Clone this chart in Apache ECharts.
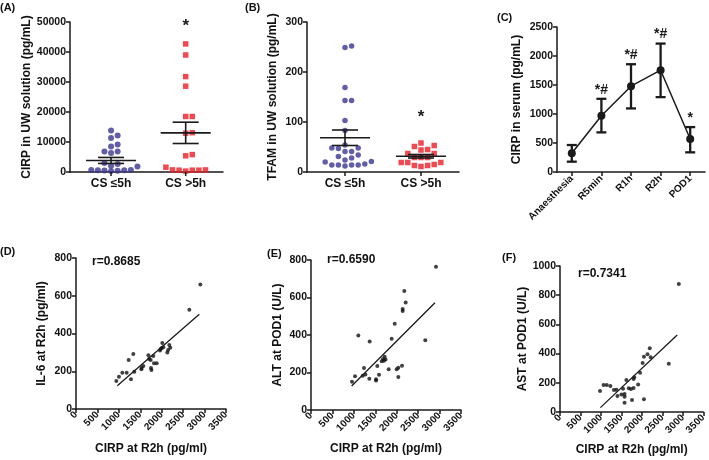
<!DOCTYPE html>
<html><head><meta charset="utf-8">
<script src="https://cdn.jsdelivr.net/npm/echarts@6/dist/echarts.min.js"></script>
<style>html,body{margin:0;padding:0;background:#fff}#c{width:709px;height:460px}</style>
</head><body><div id="c"></div>
<script>
// ---------- DATA ----------
const groupLabels = ['CS ≤5h', 'CS >5h'];
// (A) CIRP in UW solution (pg/mL)
const cirpUW_le5 = [13800, 12200, 11300, 9200, 8500, 6800, 6300, 6800, 2100, 2700, 3000, 1800, 700, 600, 500, 600, 700, 400, 300];
const cirpUW_gt5 = [42700, 39000, 31800, 28600, 18500, 18500, 13100, 12900, 5800, 5400, 1600, 700, 600, 300, 600, 700, 600];
const cirpUW_mean = [3850, 13050];
const cirpUW_sem = [1000, 3550];
const cirpUW_sig = [[2, 48500]];
// (B) TFAM in UW solution (pg/mL)
const tfam_le5 = [252, 249, 169, 143, 143, 103, 83, 54, 48, 47, 41, 41, 48, 34, 31, 28, 24, 21, 20, 14, 14, 12, 14, 14, 16];
const tfam_gt5 = [58, 51, 53, 44, 45, 37, 37, 29, 29, 29, 19, 19, 19, 13, 11, 13, 15];
const tfam_mean = [68.5, 31.5];
const tfam_sem = [15.5, 3.5];
const tfam_sig = [[2, 110]];
// (C) CIRP in serum (pg/mL)
const timepoints = ['Anaesthesia', 'R5min', 'R1h', 'R2h', 'POD1'];
const serum_mean = [322, 969, 1480, 1755, 568];
const serum_low = [178, 683, 1096, 1291, 339];
const serum_high = [465, 1262, 1858, 2214, 774];
const serum_marks = ['', '*#', '*#', '*#', '*'];
// (D) IL-6 at R2h vs CIRP at R2h
const il6_x = [941, 1003, 1081, 1182, 1283, 1229, 1337, 1361, 1532, 1571, 1525, 1703, 1742, 1804, 1750, 1760, 1820, 1883, 1690, 1960, 2014, 1976, 2037, 2000, 2130, 2150, 2177, 2200, 2644, 2901];
const il6_y = [148, 171, 192, 192, 157, 259, 291, 198, 219, 228, 210, 265, 259, 281, 217, 207, 242, 242, 285, 310, 350, 318, 327, 323, 300, 312, 339, 325, 526, 660];
const il6_fitX = [964, 2877];
const il6_fitY = [123, 502];
const il6_r = 'r=0.8685';
// (E) ALT at POD1 vs CIRP at R2h
const alt_x = [957, 1027, 1104, 1206, 1237, 1270, 1361, 1369, 1517, 1517, 1547, 1587, 1680, 1700, 1720, 1740, 1812, 1882, 1953, 1999, 2037, 2037, 2123, 2139, 2139, 2177, 2209, 2667, 2916, 1650];
const alt_y = [151, 180, 398, 183, 224, 190, 167, 366, 164, 157, 235, 188, 272, 263, 284, 270, 217, 380, 460, 217, 226, 176, 236, 539, 528, 635, 574, 372, 764, 260];
const alt_fitX = [949, 2893];
const alt_fitY = [128, 572];
const alt_r = 'r=0.6590';
// (F) AST at POD1 vs CIRP at R2h
const ast_x = [977, 1064, 1142, 1230, 1317, 1379, 1403, 1500, 1540, 1577, 1577, 1577, 1620, 1679, 1734, 1758, 1797, 1797, 1813, 1908, 1955, 2018, 2050, 2050, 2136, 2192, 2215, 2656, 2901];
const ast_y = [144, 185, 185, 178, 151, 153, 110, 120, 160, 123, 105, 64, 220, 162, 157, 82, 164, 226, 238, 189, 269, 336, 379, 87, 395, 436, 375, 331, 877];
const ast_fitX = [986, 2861];
const ast_fitY = [30, 527];
const ast_r = 'r=0.7341';

// ---------- HELPERS ----------
const F = '"Liberation Sans", Arial, sans-serif';
const INK = '#1a1a1a';
const BLUE = '#3b3591';
const RED = '#ee1c25';
const plain = v => String(v);

const grids = [
  {left: 70, top: 22, width: 153, height: 150},   // A
  {left: 307, top: 22, width: 152, height: 150},  // B
  {left: 557, top: 27, width: 148, height: 145},  // C
  {left: 76, top: 258, width: 150, height: 151},  // D
  {left: 311, top: 260, width: 150, height: 150}, // E
  {left: 560, top: 266, width: 148, height: 146}  // F
];

function baseAxis(extra) {
  return Object.assign({
    axisLine: {show: true, onZero: false, lineStyle: {color: INK, width: 1.5}},
    axisTick: {show: true, length: 4, inside: false, lineStyle: {color: INK, width: 1.5}},
    splitLine: {show: false},
    axisLabel: {color: '#111', fontFamily: F, fontWeight: 'bold', fontSize: 10.5, margin: 4, formatter: plain},
    nameTextStyle: {color: '#111', fontFamily: F, fontWeight: 'bold', fontSize: 12}
  }, extra);
}

// beeswarm layout (pixel-based) for a column scatter
function swarm(values, center, xMin, xMax, gw, yMin, yMax, gh, d, minDist) {
  const pxX = gw / (xMax - xMin), pxY = gh / (yMax - yMin);
  const order = values.map((v, i) => i).sort((a, b) => values[a] - values[b]);
  const placed = [], out = new Array(values.length);
  const cands = [0];
  for (let j = 1; j < 30; j++) cands.push(j, -j);
  for (const i of order) {
    const yp = values[i] * pxY;
    for (const c of cands) {
      const xp = c * d;
      if (placed.every(p => Math.hypot(p[0] - xp, p[1] - yp) >= minDist)) {
        placed.push([xp, yp]);
        out[i] = [center + xp / pxX, values[i]];
        break;
      }
    }
  }
  return out;
}

function meanSemRender(halfMean, halfCap) {
  return function (params, api) {
    const x = api.value(0), m = api.value(1), s = api.value(2);
    const c = api.coord([x, m]), u = api.coord([x, m + s]), l = api.coord([x, m - s]);
    const st = {stroke: INK, lineWidth: 1.6};
    return {type: 'group', children: [
      {type: 'line', shape: {x1: c[0] - halfMean, y1: c[1], x2: c[0] + halfMean, y2: c[1]}, style: st},
      {type: 'line', shape: {x1: u[0], y1: u[1], x2: l[0], y2: l[1]}, style: st},
      {type: 'line', shape: {x1: u[0] - halfCap, y1: u[1], x2: u[0] + halfCap, y2: u[1]}, style: st},
      {type: 'line', shape: {x1: l[0] - halfCap, y1: l[1], x2: l[0] + halfCap, y2: l[1]}, style: st}
    ]};
  };
}

function textRender(txt, size) {
  return function (params, api) {
    const c = api.coord([api.value(0), api.value(1)]);
    return {type: 'text', x: c[0], y: c[1], style: {text: txt, fill: INK, font: 'bold ' + size + 'px ' + F, align: 'center', verticalAlign: 'middle', textAlign: 'center', textVerticalAlign: 'middle'}};
  };
}

// category tick marks for the column-scatter panels
function catTickRender(params, api) {
  const c = api.coord([api.value(0), 0]);
  return {type: 'line', shape: {x1: c[0], y1: c[1], x2: c[0], y2: c[1] + 4}, style: {stroke: INK, lineWidth: 1.5}};
}

function errRender(params, api) {
  const i = api.value(0), lo = api.value(1), hi = api.value(2);
  const u = api.coord([i, hi]), l = api.coord([i, lo]);
  const st = {stroke: INK, lineWidth: 2.3};
  const mark = serum_marks[params.dataIndex];
  return {type: 'group', children: [
    {type: 'line', shape: {x1: u[0], y1: u[1], x2: l[0], y2: l[1]}, style: st},
    {type: 'line', shape: {x1: u[0] - 5, y1: u[1], x2: u[0] + 5, y2: u[1]}, style: st},
    {type: 'line', shape: {x1: l[0] - 5, y1: l[1], x2: l[0] + 5, y2: l[1]}, style: st},
    {type: 'text', x: u[0], y: u[1] - 2, style: {text: mark, fill: INK, font: 'bold 14px ' + F, align: 'center', verticalAlign: 'bottom', textAlign: 'center', textVerticalAlign: 'bottom'}}
  ]};
}

const zip = (a, b) => a.map((v, i) => [v, b[i]]);

// ---------- AXES ----------
const catLabel = {color: '#111', fontFamily: F, fontWeight: 'bold', fontSize: 12, margin: 6};
const xAxes = [
  baseAxis({gridIndex: 0, type: 'value', min: 0.45, max: 2.5,
    axisTick: {show: false},
    axisLabel: Object.assign({customValues: [1, 2], formatter: v => groupLabels[Math.round(v) - 1]}, catLabel)}),
  baseAxis({gridIndex: 1, type: 'value', min: 0.5, max: 2.5,
    axisTick: {show: false},
    axisLabel: Object.assign({customValues: [1, 2], formatter: v => groupLabels[Math.round(v) - 1]}, catLabel)}),
  baseAxis({gridIndex: 2, type: 'category', data: timepoints, boundaryGap: true,
    axisTick: {show: true, length: 4, alignWithLabel: true, lineStyle: {color: INK, width: 1.5}},
    axisLabel: {rotate: 45, interval: 0, color: '#111', fontFamily: F, fontWeight: 'bold', fontSize: 10, margin: 5}}),
  baseAxis({gridIndex: 3, type: 'value', min: 0, max: 3500, interval: 500, name: 'CIRP at R2h (pg/ml)', nameLocation: 'middle', nameGap: 34,
    axisLabel: {rotate: 45, color: '#111', fontFamily: F, fontWeight: 'bold', fontSize: 10, margin: 4, formatter: plain}}),
  baseAxis({gridIndex: 4, type: 'value', min: 0, max: 3500, interval: 500, name: 'CIRP at R2h (pg/ml)', nameLocation: 'middle', nameGap: 33,
    axisLabel: {rotate: 45, color: '#111', fontFamily: F, fontWeight: 'bold', fontSize: 10, margin: 4, formatter: plain}}),
  baseAxis({gridIndex: 5, type: 'value', min: 0, max: 3500, interval: 500, name: 'CIRP at R2h (pg/ml)', nameLocation: 'middle', nameGap: 32,
    axisLabel: {rotate: 45, color: '#111', fontFamily: F, fontWeight: 'bold', fontSize: 10, margin: 4, formatter: plain}})
];
const yAxes = [
  baseAxis({gridIndex: 0, type: 'value', min: 0, max: 50000, interval: 10000, name: 'CIRP in UW solution (pg/mL)', nameLocation: 'middle', nameGap: 36}),
  baseAxis({gridIndex: 1, type: 'value', min: 0, max: 300, interval: 100, name: 'TFAM in UW solution (pg/mL)', nameLocation: 'middle', nameGap: 28}),
  baseAxis({gridIndex: 2, type: 'value', min: 0, max: 2500, interval: 500, name: 'CIRP in serum (pg/mL)', nameLocation: 'middle', nameGap: 34}),
  baseAxis({gridIndex: 3, type: 'value', min: 0, max: 800, interval: 200, name: 'IL-6 at R2h (pg/ml)', nameLocation: 'middle', nameGap: 28}),
  baseAxis({gridIndex: 4, type: 'value', min: 0, max: 800, interval: 200, name: 'ALT at POD1 (U/L)', nameLocation: 'middle', nameGap: 27}),
  baseAxis({gridIndex: 5, type: 'value', min: 0, max: 1000, interval: 200, name: 'AST at POD1 (U/L)', nameLocation: 'middle', nameGap: 29})
];

// ---------- SERIES ----------
const gA = grids[0], gB = grids[1];
const series = [
  // A
  {type: 'scatter', xAxisIndex: 0, yAxisIndex: 0, symbol: 'circle', symbolSize: 6, itemStyle: {color: BLUE}, silent: true,
    data: swarm(cirpUW_le5, 1, 0.45, 2.5, gA.width, 0, 50000, gA.height, 6.6, 4.6)},
  {type: 'scatter', xAxisIndex: 0, yAxisIndex: 0, symbol: 'rect', symbolSize: 5.5, itemStyle: {color: RED}, silent: true,
    data: swarm(cirpUW_gt5, 2, 0.45, 2.5, gA.width, 0, 50000, gA.height, 6.6, 4.6)},
  {type: 'custom', xAxisIndex: 0, yAxisIndex: 0, z: 5, renderItem: meanSemRender(25, 13),
    data: [[1, cirpUW_mean[0], cirpUW_sem[0]], [2, cirpUW_mean[1], cirpUW_sem[1]]]},
  {type: 'custom', xAxisIndex: 0, yAxisIndex: 0, z: 5, renderItem: textRender('*', 17), data: cirpUW_sig},
  {type: 'custom', xAxisIndex: 0, yAxisIndex: 0, z: 5, renderItem: catTickRender, clip: false, data: [[1], [2]]},
  // B
  {type: 'scatter', xAxisIndex: 1, yAxisIndex: 1, symbol: 'circle', symbolSize: 5.5, itemStyle: {color: BLUE}, silent: true,
    data: swarm(tfam_le5, 1, 0.5, 2.5, gB.width, 0, 300, gB.height, 6.6, 5.2)},
  {type: 'scatter', xAxisIndex: 1, yAxisIndex: 1, symbol: 'rect', symbolSize: 5.5, itemStyle: {color: RED}, silent: true,
    data: swarm(tfam_gt5, 2, 0.5, 2.5, gB.width, 0, 300, gB.height, 6.6, 5.2)},
  {type: 'custom', xAxisIndex: 1, yAxisIndex: 1, z: 5, renderItem: meanSemRender(25, 13),
    data: [[1, tfam_mean[0], tfam_sem[0]], [2, tfam_mean[1], tfam_sem[1]]]},
  {type: 'custom', xAxisIndex: 1, yAxisIndex: 1, z: 5, renderItem: textRender('*', 17), data: tfam_sig},
  {type: 'custom', xAxisIndex: 1, yAxisIndex: 1, z: 5, renderItem: catTickRender, clip: false, data: [[1], [2]]},
  // C
  {type: 'line', xAxisIndex: 2, yAxisIndex: 2, data: serum_mean, symbol: 'circle', symbolSize: 8,
    lineStyle: {color: INK, width: 1.5}, itemStyle: {color: INK}, silent: true},
  {type: 'custom', xAxisIndex: 2, yAxisIndex: 2, z: 4, renderItem: errRender,
    data: timepoints.map((t, i) => [i, serum_low[i], serum_high[i]])},
  // D
  {type: 'scatter', xAxisIndex: 3, yAxisIndex: 3, symbolSize: 4, itemStyle: {color: '#111'}, data: zip(il6_x, il6_y), silent: true},
  {type: 'line', xAxisIndex: 3, yAxisIndex: 3, symbol: 'none', lineStyle: {color: INK, width: 1.3}, data: zip(il6_fitX, il6_fitY), silent: true},
  // E
  {type: 'scatter', xAxisIndex: 4, yAxisIndex: 4, symbolSize: 4, itemStyle: {color: '#111'}, data: zip(alt_x, alt_y), silent: true},
  {type: 'line', xAxisIndex: 4, yAxisIndex: 4, symbol: 'none', lineStyle: {color: INK, width: 1.3}, data: zip(alt_fitX, alt_fitY), silent: true},
  // F
  {type: 'scatter', xAxisIndex: 5, yAxisIndex: 5, symbolSize: 4, itemStyle: {color: '#111'}, data: zip(ast_x, ast_y), silent: true},
  {type: 'line', xAxisIndex: 5, yAxisIndex: 5, symbol: 'none', lineStyle: {color: INK, width: 1.3}, data: zip(ast_fitX, ast_fitY), silent: true}
];

// ---------- TEXT ----------
function txt(s, x, y, size, weight) {
  return {type: 'text', left: x, top: y, style: {text: s, fill: '#111', font: (weight || 'bold') + ' ' + size + 'px ' + F}};
}
const graphic = [
  txt('(A)', 0, 2, 11), txt('(B)', 245, 2, 11), txt('(C)', 497, 12, 11),
  txt('(D)', 0, 246, 11), txt('(E)', 267, 248, 11), txt('(F)', 502, 252, 11),
  txt(il6_r, 92, 256, 12), txt(alt_r, 327, 254, 12), txt(ast_r, 578, 268, 12)
];

const chart = echarts.init(document.getElementById('c'), null, {renderer: 'canvas'});
chart.setOption({
  animation: false,
  backgroundColor: '#fff',
  grid: grids.map(g => Object.assign({containLabel: false}, g)),
  xAxis: xAxes,
  yAxis: yAxes,
  series: series,
  graphic: graphic
});
</script>
</body></html>
